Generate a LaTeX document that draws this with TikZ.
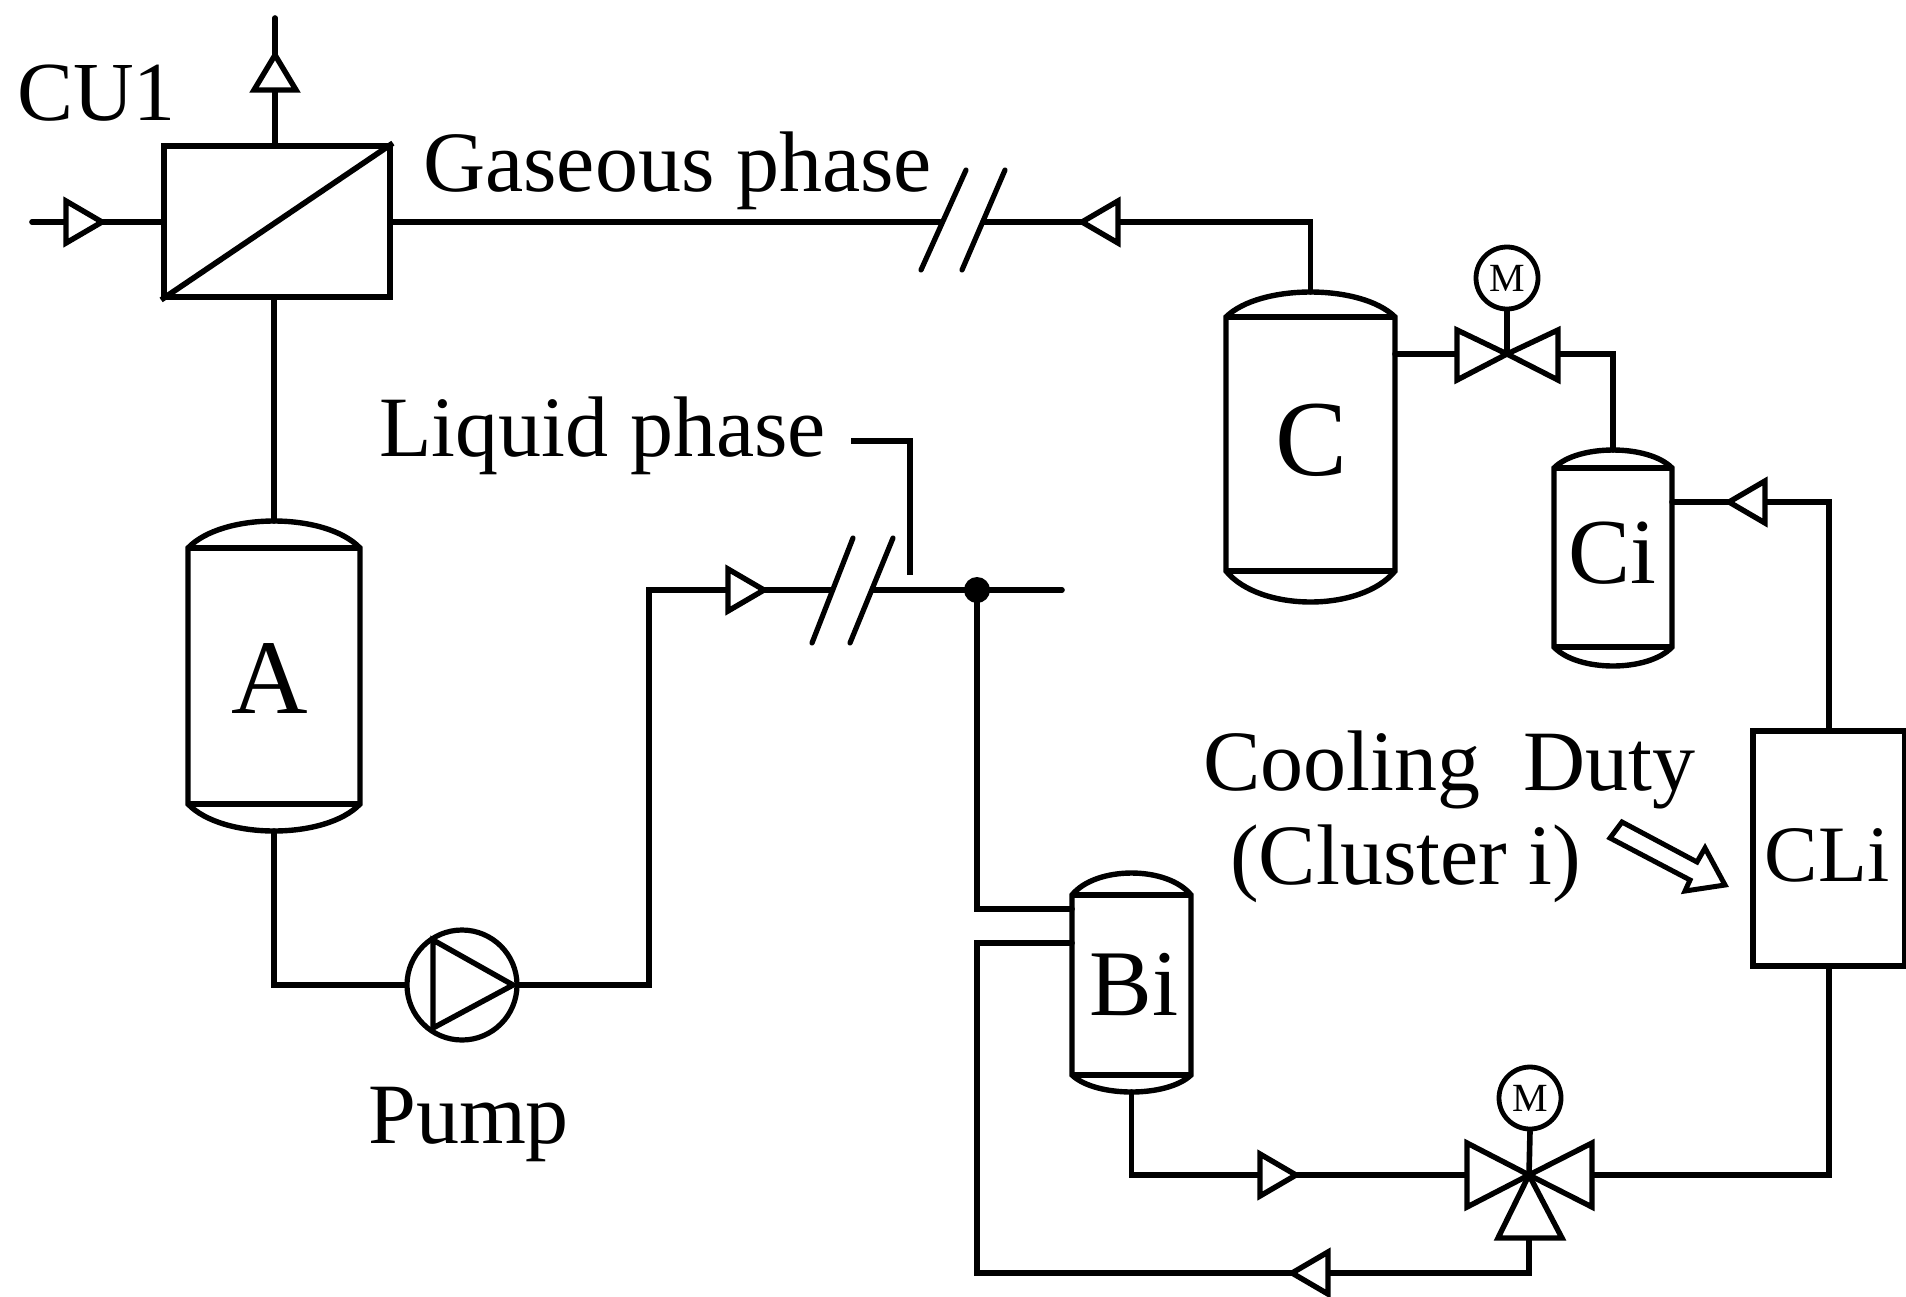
\documentclass[tikz,border=0pt]{standalone}
\usepackage{fontspec}
\setmainfont{Liberation Serif}
\tikzset{
  x=1pt,y=-1pt,
  pipe/.style={line width=5.6pt,line cap=round,line join=miter,black},
  thinpipe/.style={line width=5.2pt,line cap=round,black},
  equip/.style={draw=black,line width=5.8pt,fill=white,inner sep=0pt,line join=miter},
  symb/.style={draw=black,line width=5.4pt,fill=white,line join=miter},
  motor/.style={circle,draw=black,line width=4.8pt,fill=white,minimum size=62pt,inner sep=0pt,font=\fontsize{40}{40}\selectfont},
  lab/.style={anchor=base west,inner sep=0pt,font=\fontsize{86}{86}\selectfont},
  unitlab/.style={anchor=base,inner sep=0pt},
}
% flow triangles: tip x, tip y, and base offsets
\newcommand{\flowR}[2]{\path[symb] (#1,#2) -- ++(-36,-21) -- ++(0,42) -- cycle;}
\newcommand{\flowL}[2]{\path[symb] (#1,#2) -- ++(36,-21) -- ++(0,42) -- cycle;}
\newcommand{\flowU}[2]{\path[symb] (#1,#2) -- ++(-21,35) -- ++(42,0) -- cycle;}
% vessel: name, left, right, dome top, top line, bottom line, dome bottom
\newcommand{\vessel}[7]{%
  \coordinate (#1-top) at ({(#2+#3)/2},#4);
  \coordinate (#1-bot) at ({(#2+#3)/2},#7);
  \path[symb] (#2,#5) .. controls ({#2+0.2*(#3-#2)},{#5+1.333*(#4-#5)}) and ({#3-0.2*(#3-#2)},{#5+1.333*(#4-#5)}) .. (#3,#5)
     -- (#3,#6) .. controls ({#3-0.2*(#3-#2)},{#6+1.333*(#7-#6)}) and ({#2+0.2*(#3-#2)},{#6+1.333*(#7-#6)}) .. (#2,#6) -- cycle;
  \draw[symb,fill=none] (#2,#5) -- (#3,#5) (#2,#6) -- (#3,#6);
}
\begin{document}
\begin{tikzpicture}
\useasboundingbox[fill=white] (0,0) rectangle (1906,1296);

% equipment anchors
\node[equip,rectangle,minimum width=226pt,minimum height=151pt] (CU) at (277,221.5) {};
\node[equip,rectangle,minimum width=152pt,minimum height=235pt] (CLi) at (1829,848.5) {};
\node[circle,draw=black,line width=5.2pt,fill=white,minimum size=110pt,inner sep=0pt] (pump) at (462,985) {};
\coordinate (vOne) at (1507,354);
\coordinate (vTwo) at (1529,1175);
\node[motor] (mOne) at (1507,278) {M};
\node[motor] (mTwo) at (1530,1098) {M};
\coordinate (dot) at (977,590);
\coordinate (gasin) at (32,222);
\coordinate (topout) at (275,18);
\coordinate (dotend) at (1062,590);

% vessels
\vessel{A}{188}{360}{521}{548}{804}{831}
\vessel{C}{1226}{1395}{292}{317}{571}{602}
\vessel{Ci}{1554}{1672}{450}{468}{647}{666}
\vessel{Bi}{1072}{1191}{873}{895}{1075}{1092}

% connectors
\draw[pipe] (gasin) -- (gasin -| CU.west);
\draw[pipe] (topout) -- (CU.north -| topout);
\draw[pipe] (CU.south -| A-top) -- (A-top);
\draw[pipe] (A-bot) |- (pump.west);
\coordinate (pipeR) at (649,590);
\coordinate (breakA) at (832,590);
\coordinate (breakB) at (873,590);
\draw[pipe] (pump.east) -| (pipeR) -- (breakA);
\draw[pipe] (breakB) -- (dot) -- (dotend);
\coordinate (gasA) at (940,222);
\coordinate (gasB) at (983,222);
\draw[pipe] (CU.east |- gasA) -- (gasA);
\draw[pipe] (gasB) -| (C-top);
\coordinate (CoutE) at (1395,354);
\coordinate (vOneL) at (1457,354);
\coordinate (vOneR) at (1558,354);
\draw[pipe] (CoutE) -- (vOneL);
\draw[pipe] (vOneR) -| (Ci-top);
\coordinate (CiE) at (1672,502);
\draw[pipe] (CiE) -| (CLi.north);
\coordinate (vTwoR) at (1592,1175);
\coordinate (vTwoL) at (1467,1175);
\draw[pipe] (CLi.south) |- (vTwoR);
\draw[pipe] (Bi-bot) |- (vTwoL);
\coordinate (vTwoB) at (1529,1238);
\coordinate (BiInA) at (1072,909);
\coordinate (BiInB) at (1072,943);
\draw[pipe] (vTwoB) -- (1529,1273) -| (977,943) -- (BiInB);
\draw[pipe] (dot) |- (BiInA);
\draw[pipe] (mOne.south) -- (vOne);
\draw[pipe] (mTwo.south) -- (vTwo);

% membrane diagonal
\draw[pipe,line cap=butt] (CU.south west) -- (CU.north east);

% pump triangle
\path[symb,fill=none] (433,940) -- (513,985) -- (433,1028) -- cycle;

% valves
\path[symb] (vOne) -- (1457,330) -- (1457,380) -- cycle;
\path[symb] (vOne) -- (1558,330) -- (1558,380) -- cycle;
\path[symb] (vTwo) -- (1467,1143) -- (1467,1207) -- cycle;
\path[symb] (vTwo) -- (1592,1143) -- (1592,1207) -- cycle;
\path[symb] (vTwo) -- (1498,1238) -- (1562,1238) -- cycle;

% flow triangles
\flowU{275}{55}
\flowR{102}{222}
\flowL{1082}{222}
\flowR{764}{590}
\flowL{1729}{502}
\flowR{1296}{1175}
\flowL{1292}{1273}

% line breaks
\draw[thinpipe] (812,643) -- (853,538);
\draw[thinpipe] (850,643) -- (893,538);
\draw[thinpipe] (921,270) -- (966,170);
\draw[thinpipe] (962,270) -- (1005,170);

% dot and leader
\fill[black] (dot) circle (13);
\draw[thinpipe,line cap=butt] (851,441) -- (910,441) -- (910,575);

% heat arrow
\path[draw=black,line width=5pt,fill=white,line join=miter]
  (1622,822) -- (1610,838) -- (1690,880) -- (1685,891) -- (1725,885) -- (1705,848) -- (1697,862) -- cycle;

% labels
\node[lab,font=\fontsize{84}{84}\selectfont] (tCU) at (17,120) {CU1};
\node[lab] (tGas) at (423,191) {Gaseous phase};
\node[lab] (tLiq) at (379,456) {Liquid phase};
\node[lab] (tPump) at (368,1143) {Pump};
\node[lab] (tCool) at (1203,790) {Cooling\hspace{0.5em}Duty};
\node[lab] (tClu) at (1230,884) {(Cluster i)};
\node[unitlab,font=\fontsize{80}{80}\selectfont] (tCLi) at (1827,881) {CLi};
\node[unitlab,font=\fontsize{106}{106}\selectfont] (tA) at (270,713) {A};
\node[unitlab,font=\fontsize{108}{108}\selectfont] (tC) at (1312,475) {C};
\node[unitlab,font=\fontsize{93}{93}\selectfont] (tCi) at (1612,583) {Ci};
\node[unitlab,font=\fontsize{94}{94}\selectfont] (tBi) at (1134,1015) {Bi};
\end{tikzpicture}
\end{document}
